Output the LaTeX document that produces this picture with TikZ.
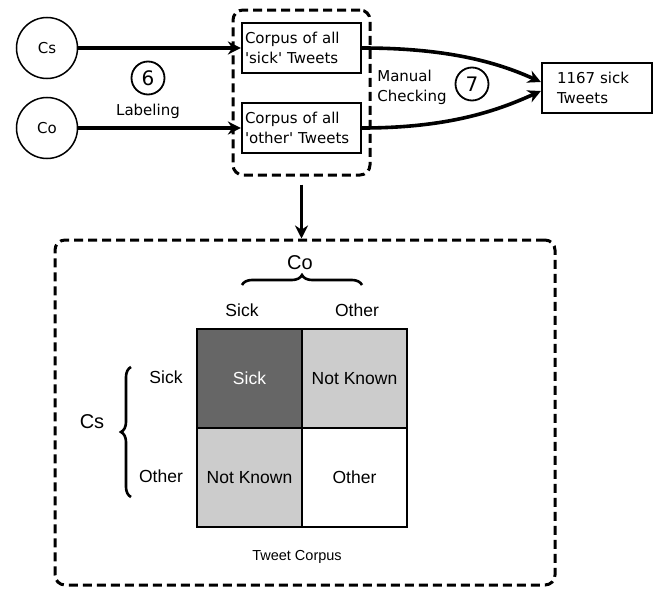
\documentclass[tikz,border=0pt]{standalone}
\usepackage{fontspec}
\setmainfont{Liberation Sans}
\newfontfamily\handf{DejaVu Sans}
\usetikzlibrary{arrows.meta,decorations.pathreplacing}
\begin{document}
\begin{tikzpicture}[x=1pt,y=-1pt,
  hand/.style={font=\handf\fontsize{15}{20}\selectfont},
  srcnode/.style={circle,draw,line width=1.5pt,minimum size=61pt,inner sep=0pt,hand},
  textbox/.style={draw,line width=2.2pt,minimum height=50pt,align=left,hand},
  stepnum/.style={circle,draw,line width=1.8pt,minimum size=33pt,inner sep=0pt,font=\handf\fontsize{20}{20}\selectfont},
  flow/.style={line width=3.6pt,-{Stealth[length=13pt,width=13pt]}},
  dashbox/.style={draw,line width=3pt,dash pattern=on 9pt off 5pt,rounded corners=10pt},
  cell/.style={draw,line width=2pt,minimum width=105pt,minimum height=99pt,inner sep=0pt,font=\fontsize{17.5}{17.5}\selectfont},
  lbl/.style={font=\fontsize{17.5}{17.5}\selectfont},
  biglbl/.style={font=\fontsize{20}{20}\selectfont},
  bracestyle/.style={decorate,decoration={brace,amplitude=10pt},line width=2.6pt}
]
\useasboundingbox (0,0) rectangle (657,589);

% top part
\node[srcnode] (cs) at (47,48) {Cs};
\node[srcnode] (co) at (47,128) {Co};
\node[textbox,minimum width=119pt,inner xsep=3pt,text width=113pt] (b1) at (301.5,48) {Corpus of all\\'sick' Tweets};
\node[textbox,minimum width=119pt,inner xsep=3pt,text width=113pt] (b2) at (301.5,128) {Corpus of all\\'other' Tweets};
\node[dashbox,minimum width=137pt,minimum height=165pt] (grp) at (301.5,92.5) {};
\node[textbox,minimum width=110pt,inner xsep=15pt,text width=80pt] (res) at (597,88) {1167 sick\\Tweets};

\node[stepnum] (s6) at (148,78) {6};
\node[hand] (lab) at (148,111) {Labeling};
\node[stepnum] (s7) at (472,84) {7};
\node[hand,align=left] (man) at (412,87) {Manual\\Checking};

\draw[flow] (cs) -- (b1);
\draw[flow] (co) -- (b2);
\draw[flow] (b1.east) .. controls +(90,0) and +(-40,-18) .. ([yshift=6pt]res.west);
\draw[flow] (b2.east) .. controls +(90,0) and +(-40,18) .. ([yshift=-3pt]res.west);

% bottom part
\node[dashbox,minimum width=500pt,minimum height=345pt] (corpus) at (305,412.5) {};
\draw[flow,shorten <=8pt] (grp.south) -- (grp.south |- corpus.north);

\node[cell,fill={rgb,255:red,102;green,102;blue,102},text=white] (c11) at (249.5,378.5) {Sick};
\node[cell,fill={rgb,255:red,204;green,204;blue,204}] (c12) at (354.5,378.5) {Not Known};
\node[cell,fill={rgb,255:red,204;green,204;blue,204}] (c21) at (249.5,477.5) {Not Known};
\node[cell,fill=white] (c22) at (354.5,477.5) {Other};

\node[lbl] (tsick) at (242,310) {Sick};
\node[lbl] (tother) at (357,310) {Other};
\node[biglbl] (tco) at (300,263) {Co};
\node[lbl] (lsick) at (166,377) {Sick};
\node[lbl] (lother) at (161,476) {Other};
\node[biglbl] (lcs) at (92,422) {Cs};
\node[font=\fontsize{14.5}{14.5}\selectfont] (tc) at (297,557) {Tweet Corpus};

\coordinate (bra) at (242,285);
\coordinate (brb) at (362,285);
\draw[bracestyle] (bra) -- (brb);
\coordinate (bla) at (131,497);
\coordinate (blb) at (131,367);
\draw[bracestyle] (bla) -- (blb);
\end{tikzpicture}
\end{document}
